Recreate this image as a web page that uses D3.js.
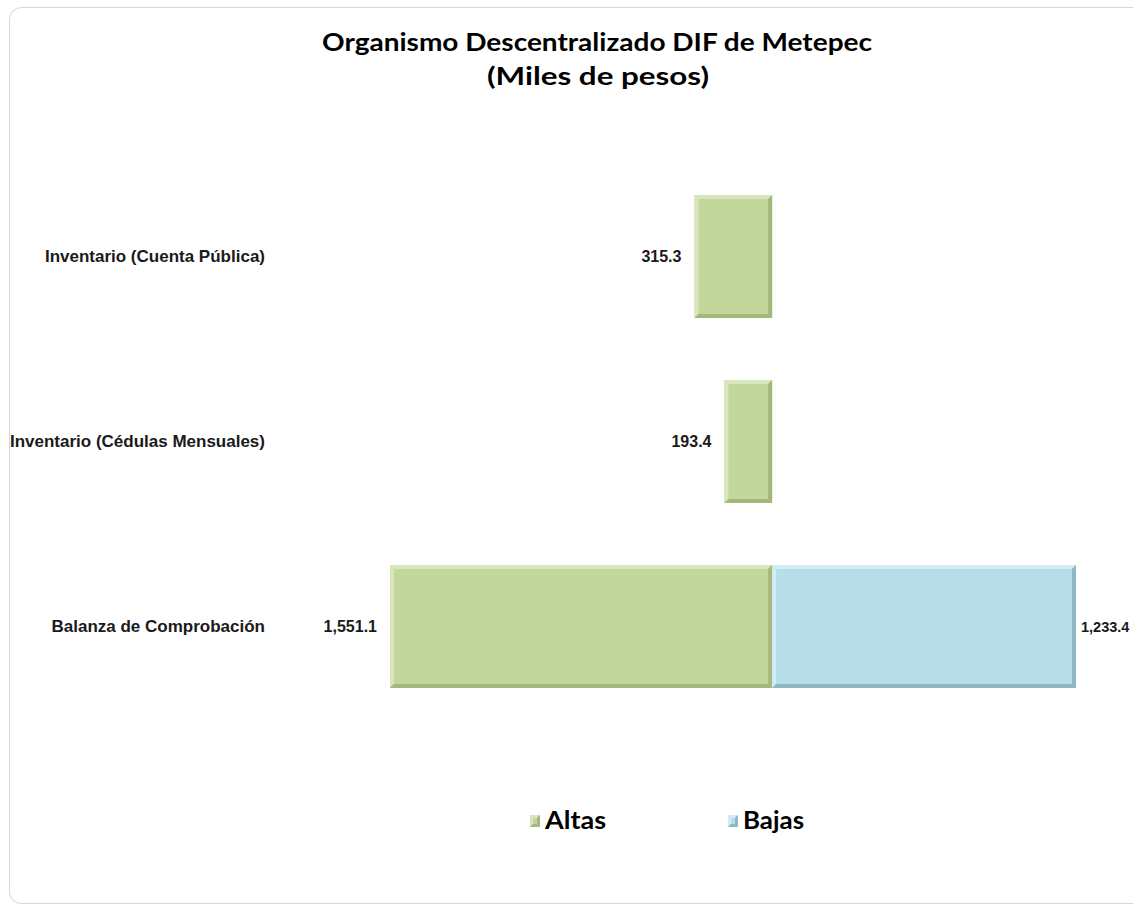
<!DOCTYPE html>
<html><head><meta charset="utf-8">
<script src="https://cdn.jsdelivr.net/npm/d3@7"></script>
<style>html,body{margin:0;padding:0;background:#fff;overflow:hidden}</style>
</head><body>
<svg id="c" width="1133" height="907"></svg>
<script>
const categories = ["Inventario (Cuenta Pública)", "Inventario (Cédulas Mensuales)", "Balanza de Comprobación"];
const altas = [315.3, 193.4, 1551.1];
const bajas = [null, null, 1233.4];
const seriesNames = ["Altas", "Bajas"];
const titleLines = ["Organismo Descentralizado DIF de Metepec", "(Miles de pesos)"];

const svg = d3.select("#c");
const fmt = d3.format(",.1f");
const colors = {
  Altas: {fill:"#c3d69b", light:"#d8e6bd", dark:"#a3b87a"},
  Bajas: {fill:"#b7dde8", light:"#d2ecf3", dark:"#8fb6c3"}
};

// border
svg.append("rect").attr("x",9.5).attr("y",7.5).attr("width",1160).attr("height",896)
  .attr("rx",12).attr("fill","#fff").attr("stroke","#d6d6d6").attr("stroke-width",1);

// title
svg.append("text").attr("x",597).attr("y",51).attr("text-anchor","middle")
  .attr("font-family","Lato, 'Open Sans', sans-serif").attr("font-weight","bold").attr("font-size",25)
  .attr("textLength",550).attr("lengthAdjust","spacingAndGlyphs").attr("fill","#000").text(titleLines[0]);
svg.append("text").attr("x",598).attr("y",85).attr("text-anchor","middle")
  .attr("font-family","Lato, 'Open Sans', sans-serif").attr("font-weight","bold").attr("font-size",25)
  .attr("textLength",222).attr("lengthAdjust","spacingAndGlyphs").attr("fill","#000").text(titleLines[1]);

const x = d3.scaleLinear().domain([-d3.max(altas), d3.max(bajas.filter(v=>v!=null))]).range([390, 1076]);
const y = d3.scaleBand().domain(categories).range([164, 719]).paddingInner(0.335).paddingOuter(0.1675);

function bevelBar(g, x0, x1, y0, h, c, b) {
  b = b || 4;
  const w = x1 - x0;
  g.append("rect").attr("x",x0).attr("y",y0).attr("width",w).attr("height",h).attr("fill",c.fill);
  const poly = (pts, col) => g.append("polygon").attr("points", pts.map(p=>p.join(",")).join(" ")).attr("fill", col);
  poly([[x0,y0],[x1,y0],[x1-b,y0+b],[x0+b,y0+b]], c.light);
  poly([[x0,y0],[x0+b,y0+b],[x0+b,y0+h-b],[x0,y0+h]], c.light);
  poly([[x1,y0],[x1,y0+h],[x1-b,y0+h-b],[x1-b,y0+b]], c.dark);
  poly([[x0,y0+h],[x0+b,y0+h-b],[x1-b,y0+h-b],[x1,y0+h]], c.dark);
}

const g = svg.append("g");
categories.forEach((cat, i) => {
  const y0 = y(cat), h = y.bandwidth();
  const cy = y0 + h/2;
  // category label
  g.append("text").attr("x",265).attr("y",cy).attr("dy","0.35em").attr("text-anchor","end")
    .attr("font-family","'Liberation Sans', Arial, sans-serif").attr("font-weight","bold").attr("font-size",17)
    .attr("fill","#1a1a1a").text(cat);
  const a = altas[i];
  if (a != null) {
    bevelBar(g, x(-a), x(0), y0, h, colors.Altas);
    g.append("text").attr("x",x(-a)-13).attr("y",cy).attr("dy","0.35em").attr("text-anchor","end")
      .attr("font-family","'Liberation Sans', Arial, sans-serif").attr("font-weight","bold").attr("font-size",16)
      .attr("fill","#1a1a1a").text(fmt(a));
  }
  const bj = bajas[i];
  if (bj != null) {
    bevelBar(g, x(0), x(bj), y0, h, colors.Bajas);
    g.append("text").attr("x",x(bj)+5).attr("y",cy).attr("dy","0.35em").attr("text-anchor","start")
      .attr("font-family","'Liberation Sans', Arial, sans-serif").attr("font-weight","bold").attr("font-size",14.5)
      .attr("fill","#1a1a1a").text(fmt(bj));
  }
});

// legend
const legX = [530, 728];
seriesNames.forEach((s, i) => {
  const lg = svg.append("g");
  bevelBar(lg, legX[i], legX[i]+10, 815, 12, colors[s], 3);
  lg.append("text").attr("x",legX[i]+15).attr("y",829)
    .attr("font-family","Lato, 'Open Sans', sans-serif").attr("font-weight","bold").attr("font-size",25)
    .attr("textLength",61).attr("lengthAdjust","spacingAndGlyphs")
    .attr("fill","#000").text(s);
});
</script>
</body></html>
